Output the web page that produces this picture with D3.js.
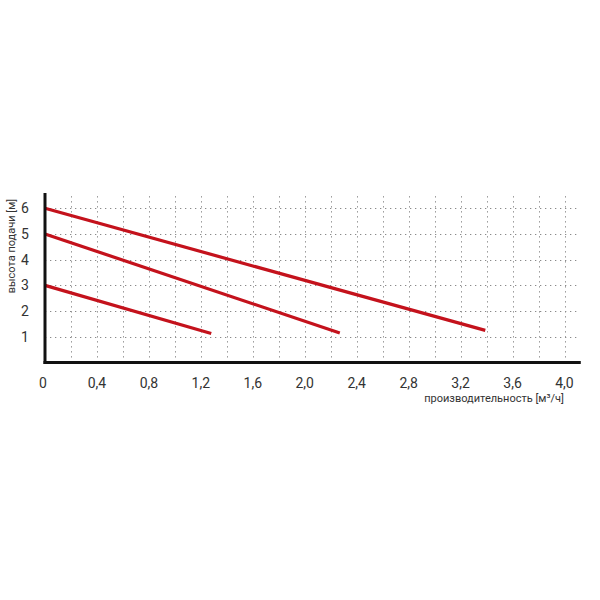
<!DOCTYPE html>
<html><head><meta charset="utf-8">
<script src="https://cdn.jsdelivr.net/npm/d3@7/dist/d3.min.js"></script>
<style>body{margin:0;background:#fff}</style>
</head><body>
<svg id="c" width="600" height="600"></svg>
<script>
const xTicks = [0, 0.4, 0.8, 1.2, 1.6, 2.0, 2.4, 2.8, 3.2, 3.6, 4.0];
const xTickLabels = ["0","0,4","0,8","1,2","1,6","2,0","2,4","2,8","3,2","3,6","4,0"];
const xGrid = [0.2,0.4,0.6,0.8,1.0,1.2,1.4,1.6,1.8,2.0,2.2,2.4,2.6,2.8,3.0,3.2,3.4,3.6,3.8,4.0];
const yTicks = [1,2,3,4,5,6];
const curve1 = [[0,6],[3.39,1.25]];
const curve2 = [[0,5],[2.27,1.15]];
const curve3 = [[0,3],[1.28,1.13]];
const curves = [curve1, curve2, curve3];
const xTitle = "производительность [м³/ч]";
const yTitle = "высота подачи [м]";

const svg = d3.select("#c");
const x = d3.scaleLinear().domain([0, 4]).range([45, 564.5]);
const y = d3.scaleLinear().domain([0, 6]).range([362.5, 208.3]);
const xEnd = 4.11, yTop = y.invert(193);

const grid = svg.append("g").attr("stroke","#8a8a8a").attr("stroke-width",1).attr("stroke-dasharray","1.3,3.7");
grid.selectAll(".h").data(yTicks).join("line")
  .attr("x1", x(0)).attr("x2", x(xEnd)).attr("y1", d=>Math.round(y(d))+0.5).attr("y2", d=>Math.round(y(d))+0.5);
grid.selectAll(".v").data(xGrid).join("line")
  .attr("y1", y(0)).attr("y2", y(yTop)).attr("x1", d=>Math.round(x(d))+0.5).attr("x2", d=>Math.round(x(d))+0.5);

const line = d3.line().x(d=>x(d[0])).y(d=>y(d[1]));
svg.append("g").selectAll("path").data(curves).join("path")
  .attr("d", line).attr("fill","none").attr("stroke","#c4121c").attr("stroke-width",3.2);

// axes
svg.append("line").attr("x1", x(0)).attr("x2", x(0)).attr("y1", y(yTop)).attr("y2", y(0)+1.5)
  .attr("stroke","#111").attr("stroke-width",3);
svg.append("line").attr("x1", x(0)-1.5).attr("x2", x(xEnd)+2).attr("y1", y(0)).attr("y2", y(0))
  .attr("stroke","#111").attr("stroke-width",3);

const font = "Roboto, 'Noto Sans', sans-serif";
svg.append("g").selectAll("text").data(xTicks).join("text")
  .attr("x", (d,i)=> i===0 ? x(d)-2 : x(d)).attr("y", 388)
  .attr("text-anchor","middle").attr("font-family",font).attr("font-size",14).attr("fill","#333")
  .text((d,i)=>xTickLabels[i]);
svg.append("g").selectAll("text").data(yTicks).join("text")
  .attr("x", 25).attr("y", d=>y(d)+5)
  .attr("text-anchor","middle").attr("font-family",font).attr("font-size",14).attr("fill","#333")
  .text(d=>d);

svg.append("text").attr("x", 564).attr("y", 402).attr("text-anchor","end")
  .attr("font-family",font).attr("font-size",11).attr("fill","#333").text(xTitle);
svg.append("text").attr("transform","translate(15,246) rotate(-90)").attr("text-anchor","middle")
  .attr("font-family",font).attr("font-size",11).attr("fill","#333").text(yTitle);
</script>
</body></html>
